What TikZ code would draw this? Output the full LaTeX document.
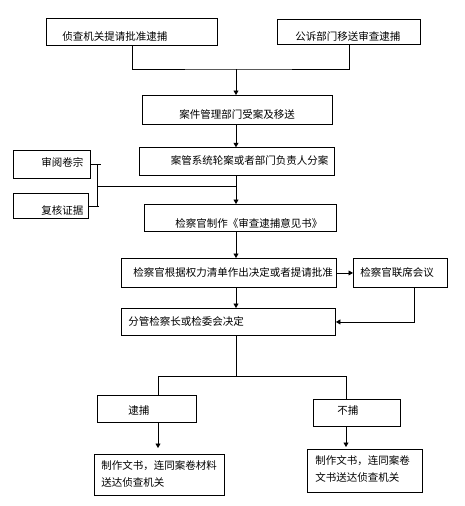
\documentclass[tikz,border=0pt]{standalone}
\usepackage{fontspec}
\newfontfamily\cjk{Noto Sans CJK SC}
\usetikzlibrary{arrows.meta}
\tikzset{
  box/.style={draw, line width=0.9pt, inner ysep=0pt, anchor=north west,
    font=\cjk\fontsize{10.5}{17}\selectfont},
  arr/.style={-{Triangle[length=4.5pt,width=5pt]}},
  link/.style={line width=0.7pt},
}

\begin{document}
\begin{tikzpicture}[x=1pt, y=-1pt, link]
  \useasboundingbox (0,0) rectangle (464,506);

  % boxes, placed by their top left corner
  \node[box, align=left, inner xsep=16pt, text width=139pt, text height=22.2pt, text depth=4.8pt] (tiqing) at (46,18) {侦查机关提请批准逮捕};
  \node[box, align=left, inner xsep=18pt, text width=107pt, text height=21pt, text depth=4pt] (yisong) at (277,19) {公诉部门移送审查逮捕};
  \node[box, align=center, inner xsep=2pt, text width=186pt, text height=22.8pt, text depth=6.2pt] (shouan) at (141.7,95) {案件管理部门受案及移送};
  \node[box, align=right, inner xsep=6pt, text width=183pt, text height=16.7pt, text depth=11pt] (fenan) at (139,147.3) {案管系统轮案或者部门负责人分案};
  \node[box, align=right, inner xsep=7pt, text width=63pt, text height=16.5pt, text depth=11.5pt] (shenyue) at (13,150) {审阅卷宗};
  \node[box, align=right, inner xsep=5pt, text width=65pt, text height=21pt, text depth=4pt] (fuhe) at (13,193) {复核证据};
  \node[box, align=right, inner xsep=14pt, text width=164pt, text height=23pt, text depth=4pt] (yijianshu) at (144,204) {检察官制作《审查逮捕意见书》};
  \node[box, align=right, inner xsep=3.5pt, text width=208pt, text height=18pt, text depth=11pt] (jueding) at (121,258) {检察官根据权力清单作出决定或者提请批准};
  \node[box, align=left, inner xsep=7pt, text width=80pt, text height=18pt, text depth=11pt] (lianxi) at (353,258) {检察官联席会议};
  \node[box, align=left, inner xsep=7pt, text width=200pt, text height=17.5pt, text depth=9.5pt] (jianchazhang) at (121,308) {分管检察长或检委会决定};
  \node[box, align=left, inner xsep=31pt, text width=37pt, text height=19pt, text depth=8pt] (daibu) at (97,395) {逮捕};
  \node[box, align=left, inner xsep=24pt, text width=39pt, text height=15.5pt, text depth=11.5pt] (bubu) at (313,399) {不捕};
  \node[box, align=left, inner xsep=7pt, text width=116pt, text height=15pt, text depth=26pt] (songda) at (94,454) {制作文书，连同案卷材料\\送达侦查机关};
  \node[box, align=left, inner xsep=8pt, text width=98.7pt, text height=15pt, text depth=28pt] (tuihui) at (307,449) {制作文书，连同案卷\\文书送达侦查机关};

  % main spine
  \coordinate (ax) at (236,0);
  \coordinate (hui) at (236,69);
  \draw (tiqing.south) |- (hui) -| (yisong.south);
  \draw[arr] (hui) -- (shouan.north -| ax);
  \draw[arr] (shouan.south -| ax) -- (fenan.north -| ax);
  \draw[arr] (fenan.south -| ax) -- (yijianshu.north -| ax);

  % bracket on the left
  \coordinate (kuo) at (97,186);
  \draw (shenyue.east) -- ++(10,0);
  \draw (fuhe.east) -- ++(10,0);
  \draw (kuo |- shenyue.east) -- (kuo |- fuhe.east);
  \draw (kuo) -- (kuo -| ax);

  \draw[arr] (yijianshu.south -| ax) -- (jueding.north -| ax);
  \draw[arr] (jueding.east) -- (lianxi.west);
  \draw[arr] ([xshift=14pt]lianxi.south) |- (jianchazhang.east);
  \draw[arr] (jueding.south -| ax) -- (jianchazhang.north -| ax);

  % split into the two results
  \coordinate (fen) at (236,376);
  \coordinate (zuo) at (158,376);
  \coordinate (you) at (346,376);
  \draw (jianchazhang.south -| ax) -- (fen);
  \draw (zuo |- daibu.north) -- (zuo) -- (you) -- (you |- bubu.north);
  \draw[arr, shorten >=6pt] (zuo |- daibu.south) -- (zuo |- songda.north);
  \draw[arr, shorten >=2pt] (you |- bubu.south) -- (you |- tuihui.north);
\end{tikzpicture}
\end{document}
